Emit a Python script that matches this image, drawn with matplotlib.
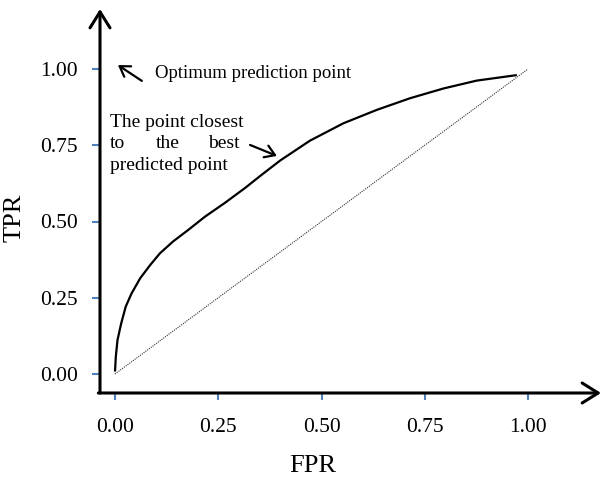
import matplotlib
matplotlib.use("Agg")
import matplotlib.pyplot as plt

plt.rcParams['font.family'] = ['Liberation Serif', 'DejaVu Serif']

# ROC curve values
fpr = [0.0, 0.002, 0.006, 0.015, 0.026, 0.040, 0.061, 0.085, 0.109, 0.141,
       0.177, 0.218, 0.266, 0.315, 0.355, 0.400, 0.472, 0.553, 0.634, 0.714,
       0.795, 0.876, 0.973]
tpr = [0.008, 0.057, 0.111, 0.166, 0.221, 0.264, 0.314, 0.357, 0.396, 0.435,
       0.472, 0.516, 0.561, 0.610, 0.653, 0.700, 0.765, 0.822, 0.866, 0.904,
       0.936, 0.962, 0.980]
diag_x = [0.0, 1.0]
diag_y = [0.0, 1.0]
ticks = [0.0, 0.25, 0.5, 0.75, 1.0]
tick_labels = ['0.00', '0.25', '0.50', '0.75', '1.00']

W, H = 602, 482
fig = plt.figure(figsize=(W / 100, H / 100), dpi=100)
# axes box in pixels: left spine x=100, bottom spine y=393, top y=5, right x=602
ax = fig.add_axes([100 / W, (H - 393) / H, (W - 100) / W, (393 - 5) / H])
ax.set_xlim(-15 / 413, 487 / 413)
ax.set_ylim(-19 / 305, 369 / 305)

for s in ax.spines.values():
    s.set_visible(False)

tick_blue = '#4f81bd'
ax.set_xticks(ticks)
ax.set_xticklabels(tick_labels)
ax.set_yticks(ticks)
ax.set_yticklabels(tick_labels)
ax.tick_params(axis='x', direction='out', length=5, width=1.5, color=tick_blue,
               pad=13, labelsize=15.5)
ax.tick_params(axis='y', direction='out', length=6, width=1.5, color=tick_blue,
               pad=10, labelsize=15.5)

# axis lines with open arrowheads
x0, y0 = -15 / 413, -19 / 305
arrow_kw = dict(arrowstyle='->,head_length=1.15,head_width=0.72', lw=2.2,
                color='black', shrinkA=0, shrinkB=0, mutation_scale=10)
ax.annotate('', xy=(x0, 365 / 305), xytext=(x0, y0), xycoords='data',
            arrowprops=arrow_kw, annotation_clip=False)
ax.annotate('', xy=(486 / 413, y0), xytext=(x0 - 0.004, y0), xycoords='data',
            arrowprops=arrow_kw, annotation_clip=False)

# diagonal and ROC curve
ax.plot(diag_x, diag_y, linestyle=(0, (1, 1)), color='#333333', lw=0.8)
ax.plot(fpr, tpr, color='black', lw=1.6, solid_capstyle='butt',
        solid_joinstyle='round')

# annotations
small_arrow = dict(arrowstyle='->,head_length=0.7,head_width=0.45', lw=1.6,
                   color='black', shrinkA=0, shrinkB=0, mutation_scale=10)
ax.annotate('', xy=(0.007, 1.013), xytext=(0.065, 0.961), arrowprops=small_arrow)
ax.text(0.097, 0.985, 'Optimum prediction point', fontsize=13.5,
        ha='left', va='center')

ax.annotate('', xy=(0.392, 0.715), xytext=(0.327, 0.751), arrowprops=small_arrow)
fs = 14
ax.text(-0.012, 0.825, 'The point closest', fontsize=fs, ha='left', va='center')
ax.text(-0.012, 0.755, 'to', fontsize=fs, ha='left', va='center')
ax.text(0.128, 0.755, 'the', fontsize=fs, ha='center', va='center')
ax.text(0.303, 0.755, 'best', fontsize=fs, ha='right', va='center')
ax.text(-0.012, 0.683, 'predicted point', fontsize=fs, ha='left', va='center')

fig.text(313 / W, 1 - 466 / H, 'FPR', fontsize=19, ha='center', va='center')
fig.text(15 / W, 1 - 218 / H, 'TPR', fontsize=19, ha='center', va='center',
         rotation=90)

fig.savefig('out.png', dpi=100)
